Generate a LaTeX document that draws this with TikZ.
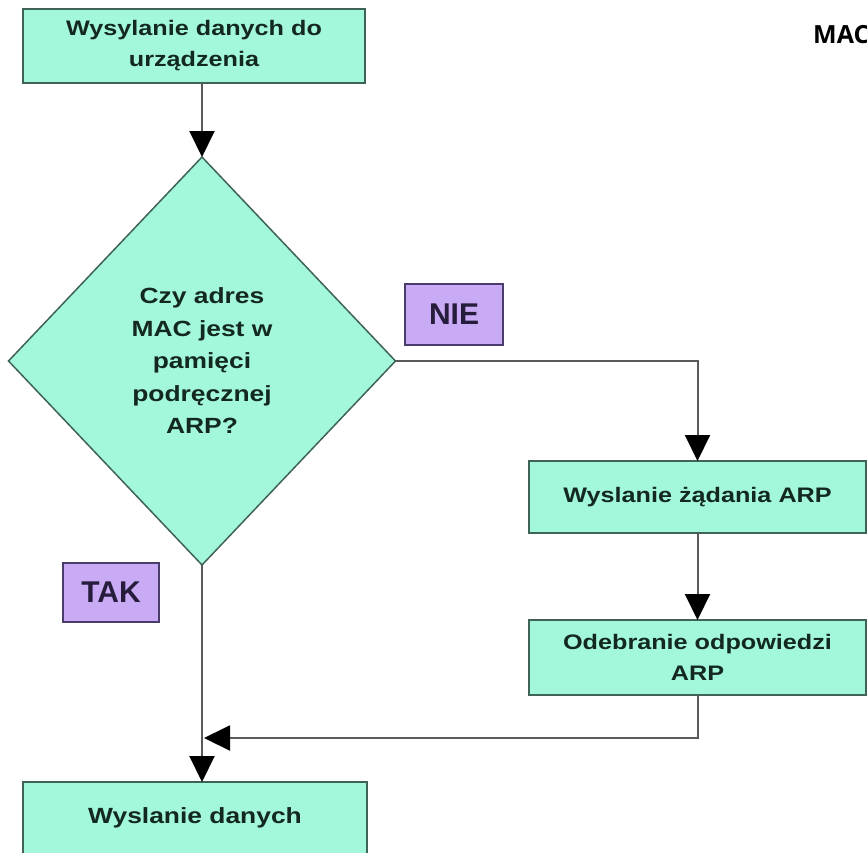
\documentclass[tikz,border=0pt]{standalone}
\usepackage{fontspec}
\usetikzlibrary{shapes.geometric,arrows.meta}
\newfontfamily\flowfont{Liberation Sans}[FakeStretch=1.2]
\newfontfamily\labfont{Liberation Sans}
\newfontfamily\osfont{Open Sans}
\definecolor{boxfill}{HTML}{A3F7DA}
\definecolor{boxline}{HTML}{3F6457}
\definecolor{boxtext}{HTML}{13291F}
\definecolor{labfill}{HTML}{C9AAF4}
\definecolor{labline}{HTML}{4B3D6B}
\definecolor{labtext}{HTML}{261C3C}
\definecolor{conncol}{HTML}{5A5A5A}
\tikzset{
  procbox/.style={draw=boxline, line width=2pt, fill=boxfill, inner sep=0pt, outer sep=0pt,
    text=boxtext, align=center, font=\flowfont\bfseries\fontsize{21}{31}\selectfont},
  decbox/.style={diamond, draw=boxline, line width=1.5pt, fill=boxfill, inner sep=0pt, outer sep=0pt,
    text=boxtext, align=center, font=\flowfont\bfseries\fontsize{22}{32.5}\selectfont},
  labbox/.style={draw=labline, line width=2pt, fill=labfill, inner sep=0pt, outer sep=0pt,
    text=labtext, font=\labfont\bfseries\fontsize{30}{34}\selectfont},
  conn/.style={draw=conncol, line width=2pt},
  arr/.style={conn, -{Triangle[width=25pt,length=26pt,color=black]}}
}
\begin{document}
\begin{tikzpicture}[x=1pt,y=-1pt]
\useasboundingbox (0,0) rectangle (867,852);
\fill[white] (0,0) rectangle (867,852);

\node[procbox, minimum width=342pt, minimum height=74pt] (top) at (194,46)
  {Wysylanie danych do\\urządzenia};
\node[decbox, minimum width=387pt, minimum height=408pt] (dia) at (202,361)
  {Czy adres\\MAC jest w\\pamięci\\podręcznej\\ARP?};
\node[labbox, minimum width=98pt, minimum height=61pt] (nie) at (454,314.5) {NIE};
\node[labbox, minimum width=96pt, minimum height=59pt] (tak) at (111,592.5) {TAK};
\node[procbox, minimum width=337pt, minimum height=72pt] (b1) at (697.5,497)
  {Wyslanie żądania ARP};
\node[procbox, minimum width=337pt, minimum height=75pt] (b2) at (697.5,657.5)
  {Odebranie odpowiedzi\\ARP};
\node[procbox, font=\flowfont\bfseries\fontsize{22}{31}\selectfont,
  minimum width=344pt, minimum height=78pt, text height=16pt, text depth=12pt] (fin) at (195,821)
  {Wyslanie danych};
\node[font=\osfont\bfseries\fontsize{25}{30}\selectfont, anchor=base west, inner sep=0pt] (mac) at (813,43) {MAC};

\coordinate (m) at (204,738);

\draw[arr] (top.south -| dia.north) -- (dia.north);
\draw[arr] (dia.east) -- (b1.north |- dia.east) -- (b1.north);
\draw[arr] (b1.south) -- (b2.north);
\draw[arr] (dia.south) -- (dia.south |- fin.north);
\draw[arr] (b2.south) -- (b2.south |- m) -- (m);
\end{tikzpicture}
\end{document}
